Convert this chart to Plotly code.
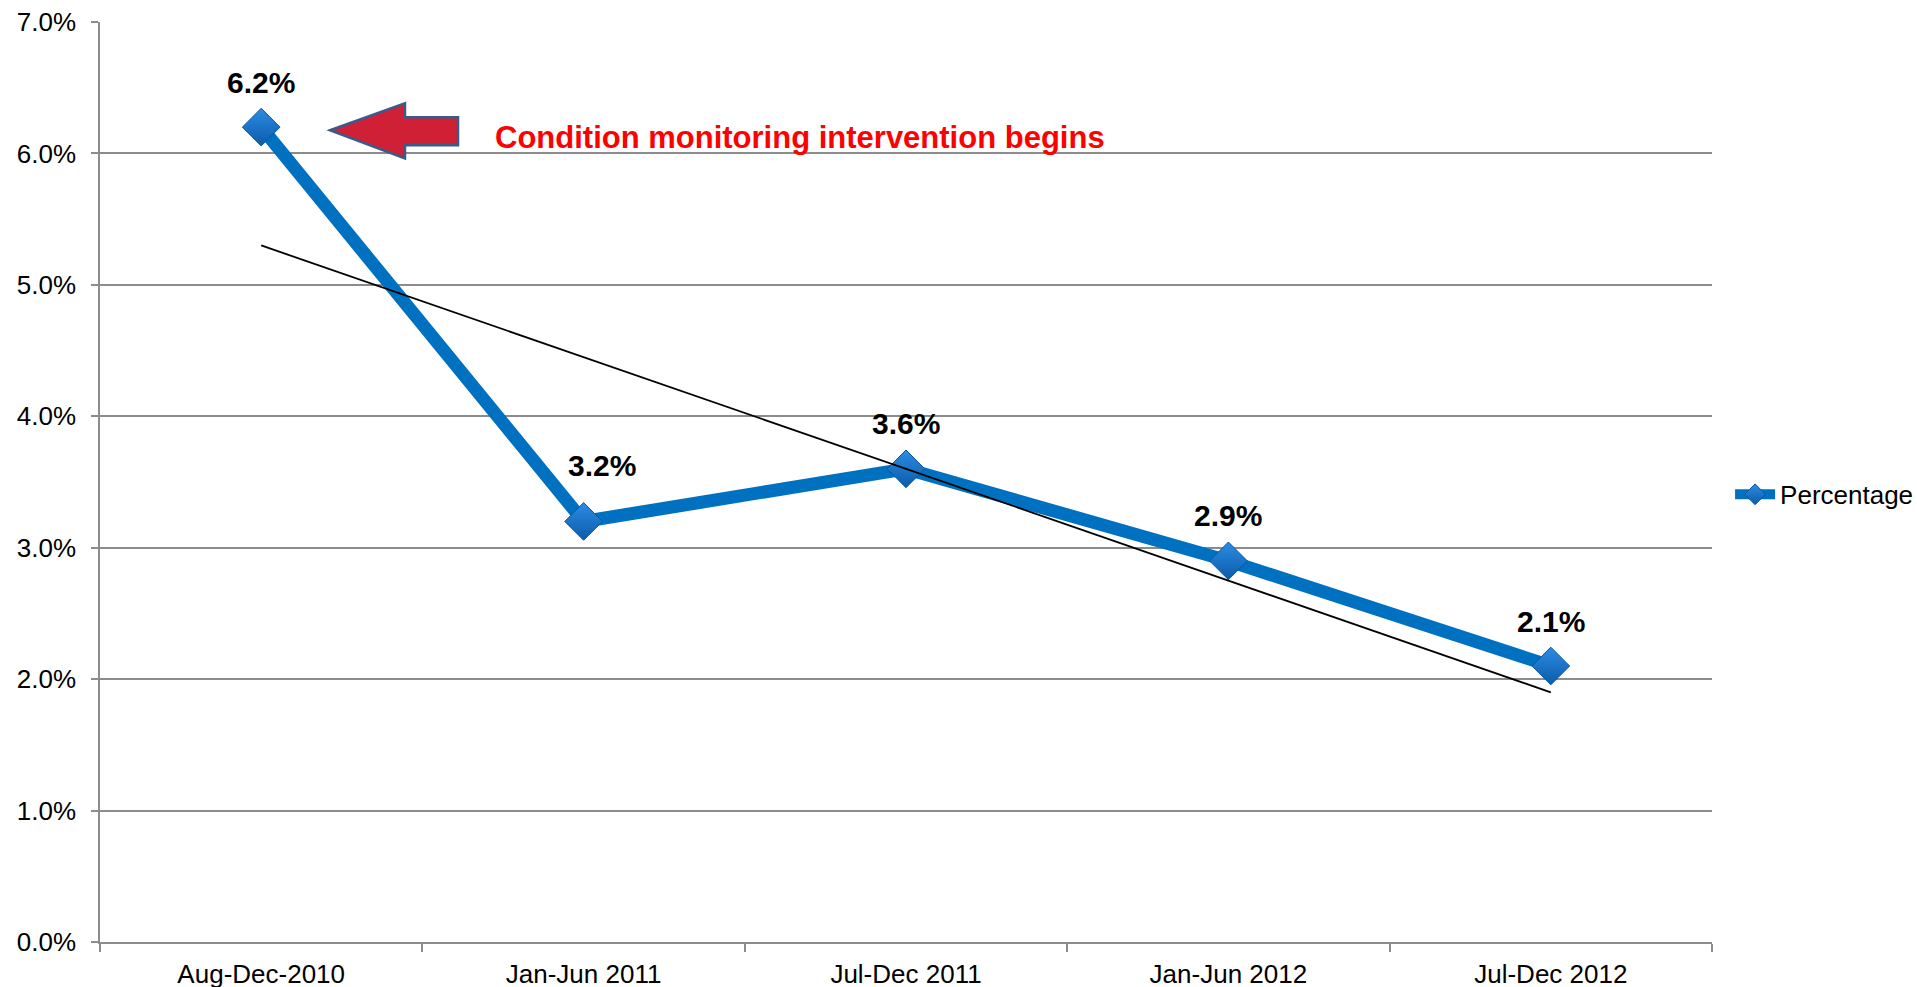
"""
Condition monitoring: percentage by period, with linear trendline
"""
import numpy as np
import plotly.graph_objects as go

periods = ["Aug-Dec-2010", "Jan-Jun 2011", "Jul-Dec 2011", "Jan-Jun 2012", "Jul-Dec 2012"]
percentage = [0.062, 0.032, 0.036, 0.029, 0.021]
y_ticks = [0.0, 0.01, 0.02, 0.03, 0.04, 0.05, 0.06, 0.07]
note = "Condition monitoring intervention begins"

FONT = "Arial, Liberation Sans, sans-serif"
BLUE = "#0070C0"
GRID = "#8C8C8C"

# Excel-style linear trendline over the period index
idx = np.arange(1, len(percentage) + 1)
slope, intercept = np.polyfit(idx, percentage, 1)
trend = [slope * idx[0] + intercept, slope * idx[-1] + intercept]

fig = go.Figure()
fig.add_trace(go.Scatter(
    x=periods, y=percentage, name="Percentage", mode="lines+markers",
    line=dict(color=BLUE, width=13),
    marker=dict(symbol="diamond", size=29, color="#2C8CE4",
                gradient=dict(type="vertical", color="#0B5BAA"),
                line=dict(color="#0A57A0", width=1)),
))
fig.add_trace(go.Scatter(
    x=[periods[0], periods[-1]], y=trend, mode="lines", showlegend=False,
    line=dict(color="black", width=1.8), hoverinfo="skip",
))

# data labels above points
for i, (p, v) in enumerate(zip(periods, percentage)):
    fig.add_annotation(
        x=p, y=v, text=f"<b>{v * 100:.1f}%</b>", showarrow=False,
        xshift=18 if i == 1 else 0, yshift=56 if i == 1 else 45,
        font=dict(family=FONT, size=30, color="black"),
    )

# block arrow pointing at the first point (figure px -> paper fractions)
L, B, W, H = 100, 941.5, 1612, 919.8
def px(x, y):
    return f"{(x - L) / W:.4f},{(B - y) / H:.4f}"
pts = [(330, 130), (405, 103), (405, 117), (458, 117), (458, 145), (405, 145), (405, 158)]
path = "M " + " L ".join(px(x, y) for x, y in pts) + " Z"
fig.add_shape(type="path", path=path, xref="paper", yref="paper",
              fillcolor="#D02035", line=dict(color="#3B5A8C", width=2.5))

fig.add_annotation(
    x=(493 - L) / W, y=(B - 137) / H, xref="paper", yref="paper",
    xanchor="left", yanchor="middle", showarrow=False, text=f"<b>{note}</b>",
    font=dict(family=FONT, size=31, color="#FF0000"),
)

fig.update_layout(
    width=1917, height=987, plot_bgcolor="white", paper_bgcolor="white",
    margin=dict(l=100, r=205, t=22, b=45),
    font=dict(family=FONT, size=26, color="black"),
    legend=dict(xref="container", x=0.9025, y=0.4865, xanchor="left", yanchor="middle",
                font=dict(size=26), itemwidth=40, bgcolor="rgba(0,0,0,0)"),
)
fig.update_xaxes(
    type="category", tickson="boundaries", ticks="outside", ticklen=8,
    tickcolor=GRID, tickwidth=1.5, showline=True, linecolor=GRID, linewidth=1.5,
    showgrid=False, ticklabelstandoff=8, range=[-0.5, 4.5], automargin=False,
    ticklabeloverflow="allow",
)
fig.update_yaxes(
    range=[0, 0.07], tickvals=y_ticks, tickformat=".1%", ticks="outside", ticklen=7,
    tickcolor=GRID, tickwidth=1.5, showline=True, linecolor=GRID, linewidth=1.5,
    gridcolor=GRID, gridwidth=1.5, zeroline=False, ticklabelstandoff=10,
    automargin=False, ticklabeloverflow="allow",
)

# drop the default 8px page margin so the figure fills the window exactly
fig.write_html("out.html", config={"displayModeBar": False},
               post_script="document.body.style.margin='0';")
